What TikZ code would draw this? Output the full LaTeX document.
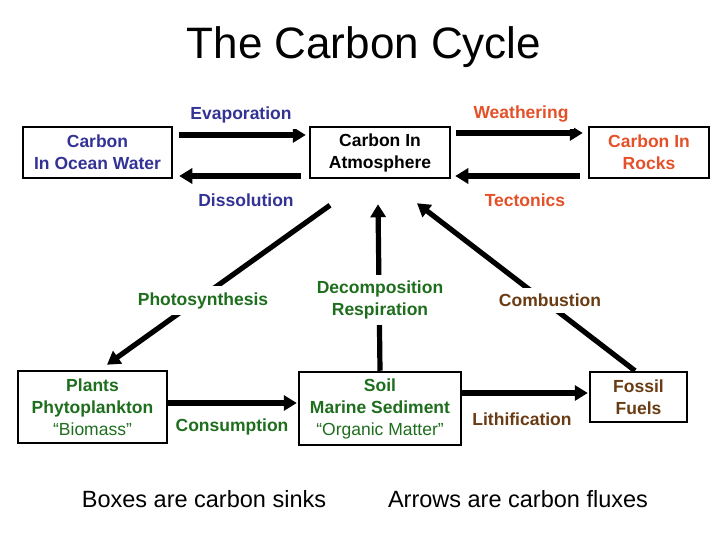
\documentclass[tikz,border=0pt]{standalone}
\usepackage{fontspec}
\setmainfont{Liberation Sans}
\usetikzlibrary{arrows.meta}
\definecolor{cnavy}{RGB}{51,51,150}
\definecolor{corange}{RGB}{228,80,40}
\definecolor{cgreen}{RGB}{30,110,30}
\definecolor{cbrown}{RGB}{105,60,20}
\tikzset{
  sink/.style={draw=black, line width=2.5bp, fill=white, align=center, inner sep=0pt,
    font=\fontsize{17.5bp}{22bp}\selectfont\bfseries},
  flow/.style={line width=5.2bp, -{Triangle[length=13bp,width=15bp]}},
  lbl/.style={font=\fontsize{17.5bp}{22bp}\selectfont\bfseries, align=center, fill=white, inner sep=6bp},
}
\begin{document}
\begin{tikzpicture}[x=1bp,y=-1bp]
\useasboundingbox[fill=white] (0,0) rectangle (728,546);

\node[font=\fontsize{44bp}{50bp}\selectfont] (title) at (364,47) {The Carbon Cycle};

% sinks
\node[sink, text=cnavy, minimum width=149bp, minimum height=51bp] (ocean) at (97.5,152.5) {Carbon\\In Ocean Water};
\node[sink, text=black, minimum width=140bp, minimum height=51bp] (atm) at (380,152.5) {Carbon In\\Atmosphere};
\node[sink, text=corange, minimum width=120bp, minimum height=51bp] (rocks) at (649,152.5) {Carbon In\\Rocks};
\node[sink, text=cgreen, minimum width=149bp, minimum height=72bp] (plants) at (92.5,407) {Plants\\Phytoplankton\\\mdseries “Biomass”};
\node[sink, text=cgreen, minimum width=162bp, minimum height=73bp] (soil) at (380,408.5) {Soil\\Marine Sediment\\\mdseries “Organic Matter”};
\node[sink, text=cbrown, minimum width=97bp, minimum height=50bp] (fossil) at (638.5,397) {Fossil\\Fuels};

% fluxes
\draw[flow] ([shift={(6,-17.5)}]ocean.east) -- ([shift={(-3,-17.5)}]atm.west);
\draw[flow] ([shift={(-8,23.5)}]atm.west) -- ([shift={(6,23.5)}]ocean.east);
\draw[flow] ([shift={(5,-19.5)}]atm.east) -- ([shift={(-5,-19.5)}]rocks.west);
\draw[flow] ([shift={(-8,23.5)}]rocks.west) -- ([shift={(4,23.5)}]atm.east);
\draw[flow] ([shift={(-50,26)}]atm.south) -- ([shift={(14.5,-5)}]plants.north);
\draw[flow] (soil.north) -- ([shift={(-2,25)}]atm.south);
\draw[flow] ([shift={(-3.5,0)}]fossil.north) -- ([shift={(37,24)}]atm.south);
\draw[flow] ([shift={(0,-4)}]plants.east) -- ([shift={(-1,-5.5)}]soil.west);
\draw[flow] ([shift={(0,-15.5)}]soil.east) -- ([shift={(-1,-4)}]fossil.west);

% flux labels
\node[lbl, text=cnavy] (evap) at (241,114.5) {Evaporation};
\node[lbl, text=cnavy] (diss) at (246,200.5) {Dissolution};
\node[lbl, text=corange] (weath) at (521,114.5) {Weathering};
\node[lbl, text=corange] (tect) at (525,200.5) {Tectonics};
\node[lbl, text=cgreen] (photo) at (203,300.5) {Photosynthesis};
\node[lbl, text=cgreen] (decomp) at (380,300) {Decomposition\\Respiration};
\node[lbl, text=cbrown] (comb) at (550,300.5) {Combustion};
\node[lbl, text=cgreen] (cons) at (232,426.5) {Consumption};
\node[lbl, text=cbrown] (lith) at (522,419.5) {Lithification};

% legend
\node[font=\fontsize{23.5bp}{28bp}\selectfont] (leg1) at (204,499) {Boxes are carbon sinks};
\node[font=\fontsize{23.5bp}{28bp}\selectfont] (leg2) at (518,499) {Arrows are carbon fluxes};
\end{tikzpicture}
\end{document}
